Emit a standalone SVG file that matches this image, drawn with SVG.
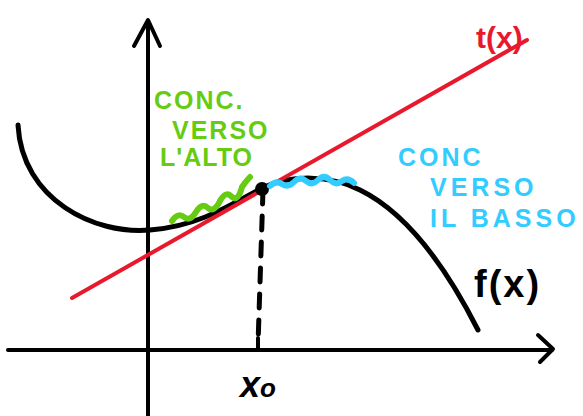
<svg xmlns="http://www.w3.org/2000/svg" width="583" height="416" viewBox="0 0 583 416">
<style>
.ax{fill:none;stroke:#000;stroke-width:4;stroke-linecap:round;stroke-linejoin:round}
.fn{fill:none;stroke:#000;stroke-width:5;stroke-linecap:round;stroke-linejoin:round}
.tg{fill:none;stroke:#E8192C;stroke-width:4;stroke-linecap:round}
.gw{fill:none;stroke:#66CC11;stroke-width:6;stroke-linecap:round;stroke-linejoin:round}
.bw{fill:none;stroke:#33CCFF;stroke-width:6;stroke-linecap:round;stroke-linejoin:round}
.t{font-family:"Liberation Sans",Arial,sans-serif;font-weight:bold}
.g{fill:#66CC11;font-size:25px}
.b{fill:#33CCFF;font-size:25px}
</style>
<rect width="583" height="416" fill="#fff"/>
<g id="axes">
<path class="ax" d="M148,416 L148,22"/>
<path class="ax" d="M134,46 L148,20 L160,46"/>
<path class="ax" d="M8,350 L552,350"/>
<path class="ax" d="M538,335 L553,349 L540,362"/>
<path class="ax" d="M258,338 L258,350"/>
</g>
<g id="connectors">
<path class="fn" d="M18,125 C22,200 95,235 150,230 C200,226 232,204 262,188 C292,174 330,175 360,190 C405,212 445,265 478,330"/>
<path class="tg" d="M72,298 L527,40"/>
<path class="fn" d="M263,190 L258,345" stroke-dasharray="14,12"/>
<circle cx="262" cy="189" r="7" fill="#000"/>
<path class="gw" d="M172,221 q6,-9 12,-4 q6,5 12,-5 q6,-10 12,-4 q6,5 12,-7 q6,-11 12,-4 q6,5 10,-10 q4,-6 8,-10"/>
<path class="bw" d="M270,186 q6,-6 12,-2 q6,4 12,-2 q6,-6 12,-1 q6,5 12,-1 q6,-6 12,0 q6,6 12,1 q6,-4 12,2"/>
</g>
<g id="label-green">
<text class="t g" x="154" y="109" letter-spacing="2">CONC.</text>
<text class="t g" x="172" y="139" letter-spacing="2">VERSO</text>
<text class="t g" x="160" y="166" letter-spacing="1">L'ALTO</text>
</g>
<g id="label-blue">
<text class="t b" x="398" y="166" letter-spacing="3">CONC</text>
<text class="t b" x="430" y="196" letter-spacing="4">VERSO</text>
<text class="t b" x="430" y="227" letter-spacing="4">IL BASSO</text>
</g>
<g id="label-tx">
<text class="t" x="476" y="48" font-size="30" fill="#E8192C">t(x)</text>
</g>
<g id="label-fx">
<text class="t" x="474" y="297" font-size="38" fill="#000" letter-spacing="2">f(x)</text>
</g>
<g id="label-x0">
<text class="t" x="240" y="397" font-size="36" fill="#000" font-style="italic">x<tspan font-size="26">o</tspan></text>
</g>
</svg>
